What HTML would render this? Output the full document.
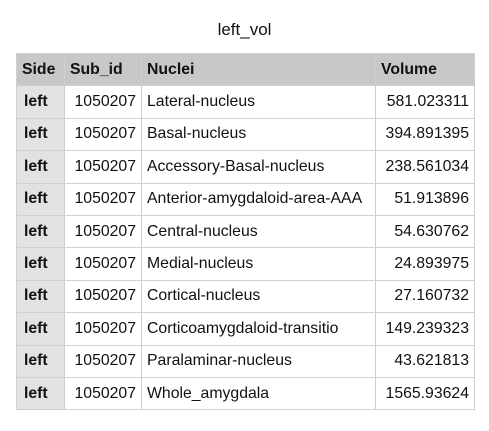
<!DOCTYPE html>
<html><head><meta charset="utf-8"><style>
body{margin:0;width:489px;height:431px;background:#fff;font-family:"Liberation Sans",sans-serif;overflow:hidden;position:relative}
#title{position:absolute;top:20px;left:0;width:489px;text-align:center;font-size:17px;color:#111}
table{position:absolute;left:16px;top:53px;border-collapse:collapse;table-layout:fixed;width:458px;font-size:15.8px;color:#111}
td,th{border:1px solid #cfcfcf;height:31.4px;padding:0 5px;white-space:nowrap;overflow:hidden}
th{background:#c8c8c8;text-align:left;font-weight:bold}
td.s{background:#e2e2e2;font-weight:bold;padding-left:7px}
td.r{text-align:right}
</style></head><body>
<div id="title">left_vol</div>
<table>
<colgroup><col style="width:48px"><col style="width:77px"><col style="width:234px"><col style="width:99px"></colgroup>
<tr><th>Side</th><th>Sub_id</th><th>Nuclei</th><th>Volume</th></tr>
<tr><td class="s">left</td><td class="r">1050207</td><td>Lateral-nucleus</td><td class="r">581.023311</td></tr>
<tr><td class="s">left</td><td class="r">1050207</td><td>Basal-nucleus</td><td class="r">394.891395</td></tr>
<tr><td class="s">left</td><td class="r">1050207</td><td>Accessory-Basal-nucleus</td><td class="r">238.561034</td></tr>
<tr><td class="s">left</td><td class="r">1050207</td><td>Anterior-amygdaloid-area-AAA</td><td class="r">51.913896</td></tr>
<tr><td class="s">left</td><td class="r">1050207</td><td>Central-nucleus</td><td class="r">54.630762</td></tr>
<tr><td class="s">left</td><td class="r">1050207</td><td>Medial-nucleus</td><td class="r">24.893975</td></tr>
<tr><td class="s">left</td><td class="r">1050207</td><td>Cortical-nucleus</td><td class="r">27.160732</td></tr>
<tr><td class="s">left</td><td class="r">1050207</td><td>Corticoamygdaloid-transitio</td><td class="r">149.239323</td></tr>
<tr><td class="s">left</td><td class="r">1050207</td><td>Paralaminar-nucleus</td><td class="r">43.621813</td></tr>
<tr><td class="s">left</td><td class="r">1050207</td><td>Whole_amygdala</td><td class="r">1565.93624</td></tr>
</table>
</body></html>
